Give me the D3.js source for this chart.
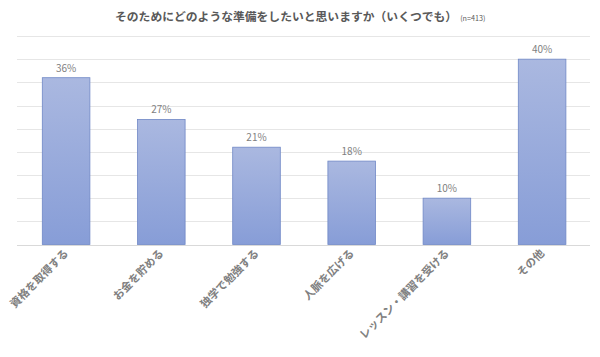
<!DOCTYPE html>
<html><head><meta charset="utf-8">
<script src="https://cdn.jsdelivr.net/npm/d3@7"></script>
<style>body{margin:0;background:#fff}svg{display:block}</style>
</head><body>
<svg id="c" width="600" height="357"></svg>
<script>
const categories = ["資格を取得する","お金を貯める","独学で勉強する","人脈を広げる","レッスン・講習を受ける","その他"];
const values = [36, 27, 21, 18, 10, 40];
const gridTicks = [0,5,10,15,20,25,30,35,40,45];

const svg = d3.select("#c");
const font = "'Noto Sans CJK JP', 'Noto Sans', sans-serif";
const x = d3.scaleBand().domain(categories).range([18.5, 589.7]).paddingInner(0.5).paddingOuter(0.25);
const y = d3.scaleLinear().domain([0,45]).range([244.5, 36]);

const defs = svg.append("defs");
const g = defs.append("linearGradient").attr("id","bg").attr("x1",0).attr("y1",0).attr("x2",0).attr("y2",1);
g.append("stop").attr("offset","0%").attr("stop-color","#aab8e0");
g.append("stop").attr("offset","100%").attr("stop-color","#879dd7");

svg.append("g").selectAll("line").data(gridTicks).join("line")
  .attr("x1",17).attr("x2",590).attr("y1",d=>Math.round(y(d))+0.5).attr("y2",d=>Math.round(y(d))+0.5)
  .attr("stroke",d=>d===0?"#d9d9d9":"#e6e6e6").attr("stroke-width",1);

svg.append("g").selectAll("rect").data(values).join("rect")
  .attr("x",(d,i)=>x(categories[i])).attr("width",x.bandwidth())
  .attr("y",d=>y(d)).attr("height",d=>y(0)-y(d))
  .attr("fill","url(#bg)").attr("stroke","#7088c6").attr("stroke-width",0.8);

svg.append("g").selectAll("text").data(values).join("text")
  .attr("x",(d,i)=>x(categories[i])+x.bandwidth()/2).attr("y",d=>y(d)-6)
  .attr("text-anchor","middle").attr("font-family",font).attr("font-size",10)
  .attr("fill","#7f7f7f").text(d=>d+"%");

svg.append("g").selectAll("text").data(categories).join("text")
  .attr("transform",d=>`translate(${x(d)+x.bandwidth()/2+3},${254}) rotate(-45)`)
  .attr("text-anchor","end").attr("font-family",font).attr("font-size",11).attr("font-weight","bold")
  .attr("fill","#808080").text(d=>d);

const t = svg.append("text").attr("x",115).attr("y",21).attr("text-anchor","start")
  .attr("font-family",font).attr("font-weight","bold").attr("fill","#595959");
t.append("tspan").attr("font-size",11.8).text("そのためにどのような準備をしたいと思いますか（いくつでも）");
t.append("tspan").attr("font-size",7.2).attr("font-weight","normal").attr("dx",3).text("(n=413)");
</script>
</body></html>
